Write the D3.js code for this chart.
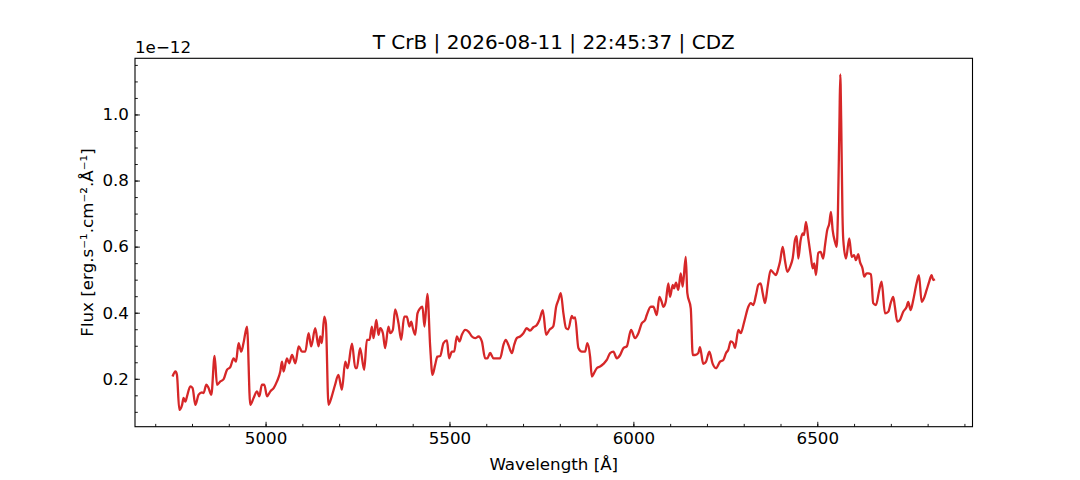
<!DOCTYPE html>
<meta charset="utf-8">
<style>
body { margin: 0; background: #fff; }
text { font-family: "DejaVu Sans", sans-serif; fill: #000; }
.tick text { font-size: 16.7px; }
.tick line { stroke: #000; stroke-width: 0.9px; }
.spectrum { fill: none; stroke: #d62728; stroke-width: 2.3px; stroke-linejoin: round; }
</style>
<body>
<script src="https://d3js.org/d3.v7.min.js"></script>
<script>
// wavelength in Angstrom, flux in units of 1e-12 erg/s/cm2/A
var wavelength = [
  4747, 4755, 4759, 4765.5, 4773, 4777, 4782, 4786.4, 4795.4, 4801.6,
  4809, 4818, 4827, 4831.5, 4839, 4845, 4852.5, 4861.4, 4868, 4877,
  4886, 4895, 4904, 4913, 4919.6, 4926.6, 4934, 4940, 4949.5, 4958.4,
  4967.4, 4976.6, 4983, 4990, 4996.5, 5004, 5013, 5022, 5031, 5040,
  5044.6, 5049, 5058, 5064, 5072, 5081, 5090, 5099, 5108, 5117,
  5124, 5135, 5144, 5148.6, 5153, 5159.5, 5164, 5171, 5180, 5189,
  5198, 5207.6, 5216.6, 5223, 5235, 5244, 5248, 5257, 5268, 5275.5,
  5282.6, 5289, 5293.5, 5301, 5307, 5311.7, 5319, 5325, 5334, 5339,
  5346, 5352.4, 5361.4, 5368.7, 5377, 5384, 5391, 5396, 5400.5, 5406.8,
  5413, 5420, 5426.6, 5432, 5440, 5447.5, 5453.8, 5461, 5467, 5474.7,
  5483.7, 5493, 5499, 5506.5, 5512.7, 5520, 5527, 5533.7, 5542.6, 5551.6,
  5561, 5570, 5579, 5588, 5597, 5603, 5610.6, 5619.5, 5628.8, 5637.7,
  5646.7, 5653, 5660, 5669.6, 5676, 5683, 5692, 5701, 5710, 5719,
  5728, 5737.5, 5744.6, 5753.8, 5762.8, 5771.7, 5782.6, 5790, 5796, 5802.7,
  5809.8, 5817, 5823, 5832.6, 5837, 5841.6, 5850.5, 5860, 5868.7, 5875,
  5882.3, 5887, 5893, 5900.5, 5909.5, 5918.5, 5927.7, 5936.7, 5945.6, 5955,
  5963.9, 5973, 5982, 5993.7, 6004.6, 6013.6, 6022.8, 6031.8, 6036.4, 6047.3,
  6054.3, 6063.6, 6070.6, 6077, 6081.5, 6088, 6095, 6099.7, 6107, 6110.6,
  6116, 6122, 6128.8, 6134, 6142.4, 6146.7, 6156, 6161.4, 6167.6, 6176.6,
  6181, 6190, 6197.6, 6206.5, 6215.7, 6224.7, 6235.6, 6244.6, 6252, 6258,
  6264.6, 6271.7, 6276.3, 6285.3, 6291.8, 6300.8, 6312.5, 6319, 6326, 6333.4,
  6339.7, 6346, 6351.6, 6357.9, 6365, 6373.3, 6380.4, 6387.7, 6394, 6398.6,
  6406, 6412, 6418.5, 6427.7, 6433, 6439.4, 6444, 6448.3, 6454.8, 6460.3,
  6463.8, 6469.3, 6475.5, 6482, 6487.5, 6491.8, 6496.4, 6502.7, 6509, 6516,
  6521, 6527, 6532.6, 6537.2, 6541.8, 6548, 6552.7, 6556, 6560.3, 6562.5,
  6565, 6568.5, 6570.7, 6578, 6587, 6593.5, 6600, 6605, 6611.4, 6616,
  6623, 6627.7, 6634, 6638.6, 6646, 6652, 6659.5, 6668.5, 6675, 6684,
  6693, 6699.5, 6706.5, 6711, 6717.4, 6724.7, 6733.7, 6743, 6747.2, 6753.8,
  6760.8, 6770, 6776.4, 6783.7, 6790, 6797.3, 6804.3, 6810.8, 6815.2, 6819.8
];
var flux = [
  0.207, 0.222, 0.212, 0.106, 0.121, 0.142, 0.131, 0.147, 0.177, 0.172,
  0.121, 0.152, 0.159, 0.157, 0.182, 0.172, 0.152, 0.269, 0.182, 0.192,
  0.199, 0.227, 0.235, 0.262, 0.252, 0.308, 0.282, 0.308, 0.358, 0.121,
  0.142, 0.162, 0.147, 0.182, 0.182, 0.147, 0.162, 0.172, 0.192, 0.222,
  0.252, 0.222, 0.262, 0.247, 0.272, 0.247, 0.298, 0.282, 0.282, 0.338,
  0.298, 0.353, 0.298, 0.328, 0.308, 0.388, 0.368, 0.121, 0.147, 0.182,
  0.212, 0.167, 0.252, 0.232, 0.306, 0.232, 0.232, 0.293, 0.227, 0.318,
  0.318, 0.358, 0.323, 0.378, 0.333, 0.353, 0.338, 0.293, 0.358, 0.338,
  0.348, 0.410, 0.368, 0.318, 0.388, 0.388, 0.358, 0.373, 0.353, 0.333,
  0.398, 0.413, 0.418, 0.358, 0.457, 0.298, 0.212, 0.242, 0.267, 0.269,
  0.308, 0.316, 0.262, 0.282, 0.282, 0.328, 0.313, 0.333, 0.348, 0.343,
  0.328, 0.323, 0.328, 0.313, 0.262, 0.262, 0.278, 0.262, 0.262, 0.262,
  0.303, 0.318, 0.303, 0.278, 0.303, 0.323, 0.328, 0.338, 0.353, 0.346,
  0.356, 0.363, 0.378, 0.408, 0.333, 0.348, 0.360, 0.418, 0.438, 0.459,
  0.398, 0.353, 0.350, 0.390, 0.383, 0.386, 0.293, 0.282, 0.282, 0.308,
  0.267, 0.207, 0.217, 0.232, 0.237, 0.245, 0.257, 0.278, 0.282, 0.262,
  0.272, 0.293, 0.298, 0.348, 0.323, 0.338, 0.368, 0.378, 0.393, 0.418,
  0.418, 0.393, 0.448, 0.433, 0.418, 0.433, 0.489, 0.448, 0.484, 0.474,
  0.491, 0.469, 0.519, 0.479, 0.569, 0.459, 0.413, 0.272, 0.272, 0.278,
  0.296, 0.245, 0.252, 0.282, 0.245, 0.232, 0.252, 0.257, 0.278, 0.288,
  0.313, 0.308, 0.293, 0.348, 0.338, 0.370, 0.418, 0.429, 0.423, 0.454,
  0.484, 0.489, 0.459, 0.429, 0.479, 0.529, 0.521, 0.514, 0.534, 0.554,
  0.599, 0.559, 0.524, 0.544, 0.564, 0.620, 0.632, 0.564, 0.620, 0.640,
  0.635, 0.675, 0.625, 0.574, 0.534, 0.549, 0.514, 0.581, 0.584, 0.564,
  0.604, 0.650, 0.670, 0.705, 0.650, 0.615, 0.599, 0.695, 0.982, 1.121,
  0.982, 0.695, 0.620, 0.564, 0.625, 0.569, 0.574, 0.559, 0.577, 0.554,
  0.534, 0.509, 0.519, 0.519, 0.516, 0.429, 0.423, 0.469, 0.494, 0.398,
  0.403, 0.429, 0.448, 0.418, 0.373, 0.378, 0.403, 0.418, 0.433, 0.408,
  0.438, 0.489, 0.514, 0.433, 0.444, 0.469, 0.494, 0.514, 0.499, 0.501
];
var xTicks = [5000, 5500, 6000, 6500];
var xMinorTicks = d3.range(4700, 6901, 100);
var yTicks = [0.2, 0.4, 0.6, 0.8, 1.0];
var yMinorTicks = d3.range(0.1, 1.151, 0.05);

var titleText = "T CrB | 2026-08-11 | 22:45:37 | CDZ";
var xLabel = "Wavelength [Å]";
var yLabel = "Flux [erg.s⁻¹.cm⁻².Å⁻¹]";
var offsetText = "1e\u221212";

var W = 1080, H = 480;
var margin = {top: 58.3, right: 107.5, bottom: 53.3, left: 135};
var width = W - margin.left - margin.right,
    height = H - margin.top - margin.bottom;

var svg = d3.select("body").append("svg")
    .attr("width", W)
    .attr("height", H);

var g = svg.append("g")
    .attr("transform", "translate(" + margin.left + "," + margin.top + ")");

var x = d3.scaleLinear().domain([4645, 6922]).range([0, width]);
var y = d3.scaleLinear().domain([0.055, 1.170]).range([height, 0]);

// minor ticks (inward)
var xMinor = g.append("g")
    .attr("transform", "translate(0," + height + ")")
    .call(d3.axisBottom(x).tickValues(xMinorTicks).tickSize(-2.8).tickSizeOuter(0).tickFormat(""));
xMinor.select(".domain").remove();

var yMinor = g.append("g")
    .call(d3.axisLeft(y).tickValues(yMinorTicks).tickSize(-2.8).tickSizeOuter(0).tickFormat(""));
yMinor.select(".domain").remove();

// major ticks
var xAxis = g.append("g")
    .attr("transform", "translate(0," + height + ")")
    .call(d3.axisBottom(x).tickValues(xTicks).tickSize(-4.9).tickSizeOuter(0).tickPadding(5).tickFormat(d3.format("d")));
xAxis.select(".domain").remove();

var yAxis = g.append("g")
    .call(d3.axisLeft(y).tickValues(yTicks).tickSize(-4.9).tickSizeOuter(0).tickPadding(6).tickFormat(d3.format(".1f")));
yAxis.select(".domain").remove();

// spectrum
var line = d3.line()
    .x(function(d, i) { return x(wavelength[i]); })
    .y(function(d) { return y(d); })
    .curve(d3.curveMonotoneX);

g.append("path")
    .datum(flux)
    .attr("class", "spectrum")
    .attr("d", line);

// frame
g.append("rect")
    .attr("width", width)
    .attr("height", height)
    .attr("fill", "none")
    .attr("stroke", "#000")
    .attr("stroke-width", 1.1);

// texts
svg.append("text")
    .attr("x", margin.left + width / 2)
    .attr("y", 49)
    .attr("text-anchor", "middle")
    .style("font-size", "20px")
    .text(titleText);

svg.append("text")
    .attr("x", margin.left + width / 2)
    .attr("y", 470)
    .attr("text-anchor", "middle")
    .style("font-size", "16.7px")
    .text(xLabel);

svg.append("text")
    .attr("transform", "translate(93," + (margin.top + height / 2) + ") rotate(-90)")
    .attr("text-anchor", "middle")
    .style("font-size", "16.7px")
    .text(yLabel);

svg.append("text")
    .attr("x", margin.left)
    .attr("y", 53)
    .attr("text-anchor", "start")
    .style("font-size", "16.7px")
    .text(offsetText);
</script>
</body>
